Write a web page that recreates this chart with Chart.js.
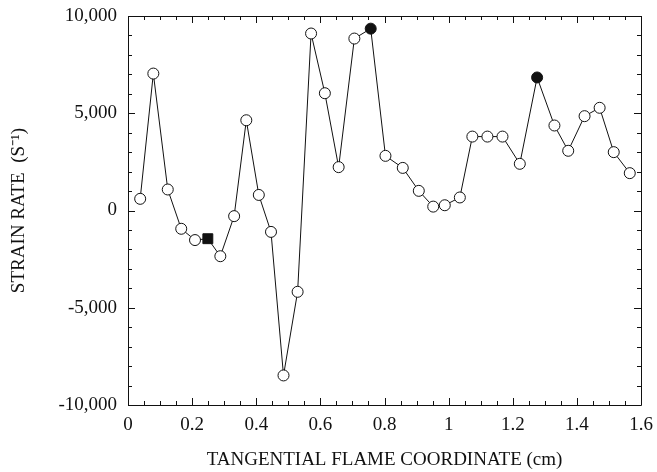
<!DOCTYPE html>
<html>
<head>
<meta charset="utf-8">
<script src="https://cdn.jsdelivr.net/npm/chart.js@4.4.1/dist/chart.umd.min.js"></script>
<style>
  html, body { margin: 0; padding: 0; background: #fff; }
  #wrap { width: 657px; height: 472px; }
</style>
</head>
<body>
<div id="wrap"><canvas id="strainChart"></canvas></div>
<script>
// tangential flame coordinate (cm) and strain rate (1/s)
var xCoord = [0.038, 0.079, 0.124, 0.166, 0.209, 0.249, 0.288, 0.331, 0.369, 0.408,
              0.446, 0.485, 0.529, 0.571, 0.614, 0.657, 0.706, 0.757, 0.803, 0.857,
              0.907, 0.952, 0.988, 1.035, 1.074, 1.121, 1.168, 1.222, 1.276, 1.330,
              1.373, 1.424, 1.471, 1.515, 1.565];
var strainRate = [600, 7040, 1080, -940, -1520, -1450, -2350, -290, 4640, 800,
                  -1100, -8480, -4180, 9100, 6030, 2230, 8840, 9350, 2810, 2190,
                  1010, 200, 270, 670, 3800, 3800, 3800, 2400, 6840, 4370,
                  3070, 4850, 5280, 3000, 1920];
// special markers: the filled square and the two filled circles
var squarePoints = [5];
var filledPoints = [17, 28];

var xTicks = [0, 0.2, 0.4, 0.6, 0.8, 1, 1.2, 1.4, 1.6];
var yTicks = [-10000, -5000, 0, 5000, 10000];

var points = [];
for (let i = 0; i < xCoord.length; i++) {
    points.push({x: xCoord[i], y: strainRate[i]});
}

var serif = "'Liberation Serif', 'Times New Roman', serif";
var ink = "#111";

// frame with inward ticks on all four sides
var framePlugin = {
    id: "frame",
    beforeDatasetsDraw: function(chart) {
        var ctx = chart.ctx;
        var a = chart.chartArea;
        var xs = chart.scales.x, ys = chart.scales.y;
        ctx.save();
        ctx.strokeStyle = ink;
        ctx.lineWidth = 1;
        ctx.beginPath();
        ctx.rect(Math.round(a.left) + 0.5, Math.round(a.top) + 0.5,
                 Math.round(a.right - a.left), Math.round(a.bottom - a.top));
        ctx.stroke();
        ctx.beginPath();
        for (let v = 0; v <= 1.6001; v += 0.05) {
            var px = Math.round(xs.getPixelForValue(v)) + 0.5;
            var len = (Math.abs(v / 0.2 - Math.round(v / 0.2)) < 0.01) ? 7 : 4;
            ctx.moveTo(px, a.bottom); ctx.lineTo(px, a.bottom - len);
            ctx.moveTo(px, a.top); ctx.lineTo(px, a.top + len);
        }
        for (let v = -10000; v <= 10000; v += 1000) {
            var py = Math.round(ys.getPixelForValue(v)) + 0.5;
            var len2 = (v % 5000 === 0) ? 7 : 4;
            ctx.moveTo(a.left, py); ctx.lineTo(a.left + len2, py);
            ctx.moveTo(a.right, py); ctx.lineTo(a.right - len2, py);
        }
        ctx.stroke();
        ctx.restore();
    }
};

var data = {
    datasets: [
        {
            label: "Strain rate",
            data: points,
            borderColor: ink,
            borderWidth: 1,
            tension: 0,
            fill: false,
            pointStyle: function(c) {
                return squarePoints.indexOf(c.dataIndex) >= 0 ? "rect" : "circle";
            },
            pointRadius: function(c) {
                return squarePoints.indexOf(c.dataIndex) >= 0 ? 7 : 5.5;
            },
            pointBackgroundColor: function(c) {
                var i = c.dataIndex;
                return (squarePoints.indexOf(i) >= 0 || filledPoints.indexOf(i) >= 0) ? ink : "#fff";
            },
            pointBorderColor: ink,
            pointBorderWidth: 1
        }
    ]
};

var options = {
    responsive: true,
    maintainAspectRatio: false,
    animation: false,
    layout: { padding: { left: 0, right: 16, top: 16, bottom: 0 } },
    plugins: {
        legend: { display: false },
        tooltip: { enabled: false }
    },
    scales: {
        x: {
            type: "linear",
            min: 0,
            max: 1.6,
            afterBuildTicks: function(scale) {
                scale.ticks = xTicks.map(function(v) { return {value: v}; });
            },
            afterFit: function(scale) {
                scale.height = 67;
                scale.paddingLeft = 0;
                scale.paddingRight = 0;
            },
            grid: { display: false, drawTicks: false },
            border: { display: false },
            ticks: {
                padding: 9,
                color: ink,
                font: { family: serif, size: 19 },
                callback: function(v) { return String(Math.round(v * 10) / 10); }
            },
            title: {
                display: true,
                text: "TANGENTIAL FLAME COORDINATE (cm)",
                color: ink,
                font: { family: serif, size: 19 },
                padding: { top: 0, bottom: 1 }
            }
        },
        y: {
            type: "linear",
            min: -10000,
            max: 10000,
            afterBuildTicks: function(scale) {
                scale.ticks = yTicks.map(function(v) { return {value: v}; });
            },
            afterFit: function(scale) {
                scale.width = 128;
                scale.paddingTop = 0;
                scale.paddingBottom = 0;
            },
            grid: { display: false, drawTicks: false },
            border: { display: false },
            ticks: {
                padding: 11,
                color: ink,
                font: { family: serif, size: 19 },
                callback: function(v) { return v.toLocaleString("en-US"); }
            },
            title: {
                display: true,
                text: "STRAIN RATE  (S\u207B\u00B9)",
                color: ink,
                font: { family: serif, size: 19 },
                padding: { top: 8, bottom: 0 }
            }
        }
    }
};

var chart = new Chart(document.getElementById("strainChart"), {
    type: "line",
    data: data,
    options: options,
    plugins: [framePlugin]
});
</script>
</body>
</html>
